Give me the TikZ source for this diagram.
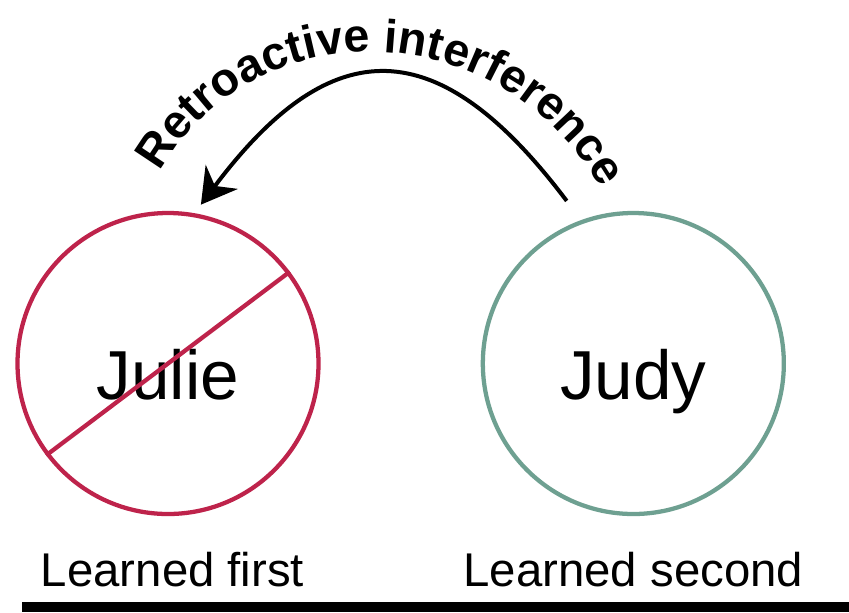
\documentclass[tikz,border=0pt]{standalone}
\usepackage{fontspec}
\setmainfont{Liberation Sans}
\usetikzlibrary{arrows.meta,decorations.text,positioning}
\definecolor{forgotred}{RGB}{190,35,75}
\definecolor{keptgreen}{RGB}{110,160,145}
\tikzstyle{memory}=[
	shape=circle,
	minimum size=225.75pt,
	inner sep=0pt,
	line width=3.2pt
]
\tikzstyle{person}=[anchor=base, font=\fontsize{52}{52}\selectfont]
\tikzstyle{caplabel}=[anchor=base, font=\fontsize{35.5}{36}\selectfont]
\tikzstyle{strike}=[draw=forgotred, line width=3.2pt]
\tikzstyle{retroarrow}=[draw, line width=3pt, -{Stealth[length=26pt,width=30pt]}]

\begin{document}
\begin{tikzpicture}[x=0.75pt, y=-0.75pt, node distance=349pt]
	\useasboundingbox (0,0) rectangle (849,612);

	\node[memory, draw=forgotred]	(julie) at (168,363.5) {};
	\node[memory, draw=keptgreen]	(judy) [right of=julie] {};

	\node[person]	(julielbl) at ([yshift=-27pt]julie.center) {Julie};
	\node[person]	(judylbl) at ([yshift=-27pt]judy.center) {Judy};

	\node[caplabel]	(first) at ([xshift=3.4pt,yshift=-167.6pt]julie.center) {Learned first};
	\node[caplabel]	(second) at ([yshift=-167.6pt]judy.center) {Learned second};

	\path[strike] (julie.217) -- (julie.37);
	\path[retroarrow, shorten <=18pt, shorten >=8pt] (judy.110) .. controls (438,30) and (332,30) .. (julie.80);

	\coordinate (txtstart) at (158,176);
	\coordinate (txtend) at (603,192);
	\path[decorate, decoration={text along path, text align=center,
		text={|\bfseries\fontsize{35}{35}\selectfont|Retroactive interference}}]
		(txtstart) .. controls (250,8) and (500,8) .. (txtend);

	\fill (22,602) rectangle (849,612);
\end{tikzpicture}
\end{document}
